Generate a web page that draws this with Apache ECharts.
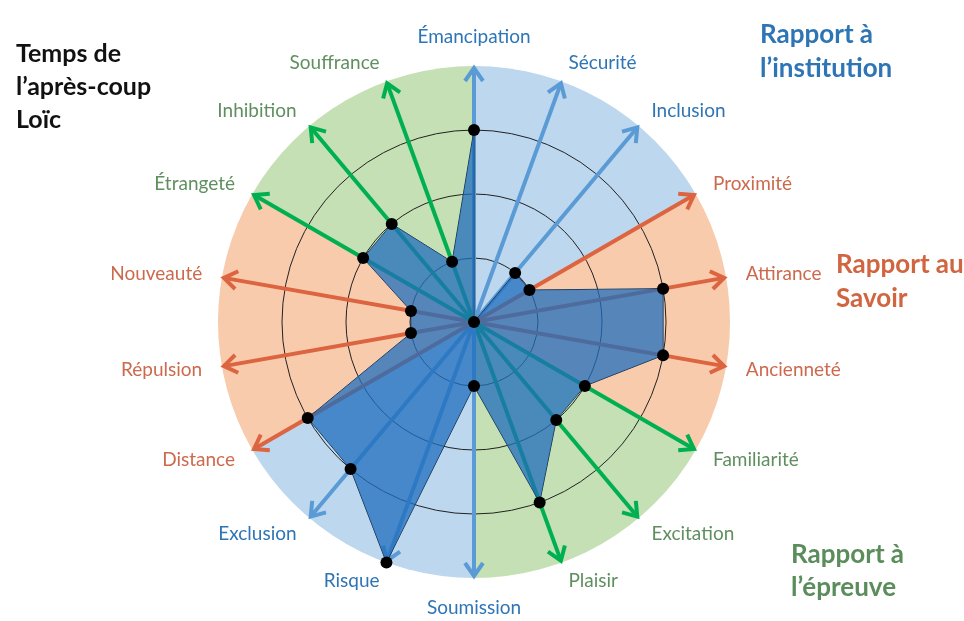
<!DOCTYPE html>
<html>
<head>
<meta charset="utf-8">
<title>Temps de l'après-coup Loïc</title>
<script src="https://cdn.jsdelivr.net/npm/echarts@6/dist/echarts.min.js"></script>
<style>
  html, body { margin: 0; padding: 0; background: #fff; }
  #container { width: 964px; height: 621px; }
</style>
</head>
<body>
<div id="container"></div>
<script>
// axes listed clockwise starting from the top
var axisNames = ['Émancipation', 'Sécurité', 'Inclusion', 'Proximité', 'Attirance', 'Ancienneté',
    'Familiarité', 'Excitation', 'Plaisir', 'Soumission', 'Risque', 'Exclusion',
    'Distance', 'Répulsion', 'Nouveauté', 'Étrangeté', 'Inhibition', 'Souffrance'];
var axisGroups = ['inst', 'inst', 'inst', 'savoir', 'savoir', 'savoir',
    'epreuve', 'epreuve', 'epreuve', 'inst', 'inst', 'inst',
    'savoir', 'savoir', 'savoir', 'epreuve', 'epreuve', 'epreuve'];
var loicValues = [3, 0, 1, 1, 3, 3, 2, 2, 3, 1, 4, 3, 3, 1, 1, 2, 2, 1];
var scaleMax = 4;
// background sectors (degrees, clockwise from top)
var sectorSpans = [60, 60, 60, 60, 60, 60];
var sectorGroups = ['inst', 'savoir', 'epreuve', 'inst', 'savoir', 'epreuve'];

var arrowColor = { inst: '#5b9bd5', savoir: '#dc6440', epreuve: '#00b050' };
var textColor = { inst: '#2e75b6', savoir: '#cc6a4d', epreuve: '#5f8f5f' };
var sectorColor = { inst: '#bdd7ee', savoir: '#f8cbad', epreuve: '#c5e0b4' };

var center = [474, 322];
var outerR = 256;
var step = 360 / axisNames.length;

// echarts radar runs counter-clockwise, so reverse order after the first axis
var order = [0];
for (var k = axisNames.length - 1; k > 0; k--) order.push(k);

var indicators = order.map(function (i) {
    return { name: axisNames[i], max: scaleMax, min: 0, color: textColor[axisGroups[i]] };
});
var radarValues = order.map(function (i) { return loicValues[i]; });

var arrowData = axisNames.map(function (n, i) {
    return { name: n, value: [scaleMax, i * step], itemStyle: { color: arrowColor[axisGroups[i]] } };
});

var sectorData = sectorSpans.map(function (v, i) {
    return { value: v, name: sectorGroups[i] + i, itemStyle: { color: sectorColor[sectorGroups[i]] } };
});

function renderArrow(params, api) {
    var tip = api.coord([api.value(0), api.value(1)]);
    var base = api.coord([0, api.value(1)]);
    var dx = tip[0] - base[0], dy = tip[1] - base[1];
    var len = Math.sqrt(dx * dx + dy * dy);
    var ux = dx / len, uy = dy / len;
    var head = 15, wing = 9;
    var color = api.visual('color');
    return {
        type: 'group',
        children: [{
            type: 'line',
            shape: { x1: base[0], y1: base[1], x2: tip[0] - ux * 2, y2: tip[1] - uy * 2 },
            style: { stroke: color, lineWidth: 4 }
        }, {
            type: 'polyline',
            shape: {
                points: [
                    [tip[0] - ux * head - uy * wing, tip[1] - uy * head + ux * wing],
                    [tip[0] - ux * 2, tip[1] - uy * 2],
                    [tip[0] - ux * head + uy * wing, tip[1] - uy * head - ux * wing]
                ]
            },
            style: { stroke: color, lineWidth: 4, fill: 'none', lineJoin: 'miter' }
        }]
    };
}

var dom = document.getElementById('container');
var myChart = echarts.init(dom, null, { renderer: 'canvas' });

var titleFont = 'Lato';
var option = {
    animation: false,
    title: [{
        text: 'Temps de\nl’après-coup\nLoïc',
        left: 11, top: 32,
        textStyle: { fontFamily: titleFont, fontWeight: 'bold', fontSize: 25, lineHeight: 33, color: '#111' }
    }, {
        text: 'Rapport à\nl’institution',
        left: 755, top: 13,
        textStyle: { fontFamily: titleFont, fontWeight: 'bold', fontSize: 26, lineHeight: 34, color: '#2e75b6' }
    }, {
        text: 'Rapport au\nSavoir',
        left: 831, top: 243,
        textStyle: { fontFamily: titleFont, fontWeight: 'bold', fontSize: 26, lineHeight: 34, color: '#d0653f' }
    }, {
        text: 'Rapport à\nl’épreuve',
        left: 786, top: 533,
        textStyle: { fontFamily: titleFont, fontWeight: 'bold', fontSize: 26, lineHeight: 33, color: '#5b8c5b' }
    }],
    polar: { center: center, radius: outerR },
    angleAxis: { type: 'value', min: 0, max: 360, startAngle: 90, clockwise: true, show: false },
    radiusAxis: { type: 'value', min: 0, max: scaleMax, show: false },
    radar: {
        center: center,
        radius: outerR,
        startAngle: 90,
        shape: 'circle',
        splitNumber: 4,
        indicator: indicators,
        nameGap: 20,
        axisName: { fontFamily: 'Lato', fontSize: 19 },
        axisLine: { show: false },
        axisTick: { show: false },
        axisLabel: { show: false },
        splitArea: { show: false },
        splitLine: {
            lineStyle: {
                color: ['rgba(0,0,0,0)', '#222', '#222', '#222', 'rgba(0,0,0,0)'],
                width: 1
            }
        },
        z: 1
    },
    series: [{
        type: 'pie',
        center: center,
        radius: outerR,
        startAngle: 90,
        clockwise: true,
        silent: true,
        label: { show: false },
        labelLine: { show: false },
        itemStyle: { borderWidth: 0 },
        data: sectorData,
        z: 0
    }, {
        type: 'custom',
        coordinateSystem: 'polar',
        renderItem: renderArrow,
        silent: true,
        data: arrowData,
        z: 2
    }, {
        type: 'radar',
        symbol: 'circle',
        symbolSize: 12,
        itemStyle: { color: '#000' },
        lineStyle: { color: '#1c2b3a', width: 1 },
        areaStyle: { color: 'rgba(31,110,190,0.75)', opacity: 1 },
        data: [{ name: 'Loïc', value: radarValues }],
        z: 3
    }]
};

myChart.setOption(option);

window.addEventListener('resize', function () {
    myChart.resize();
});
</script>
</body>
</html>
